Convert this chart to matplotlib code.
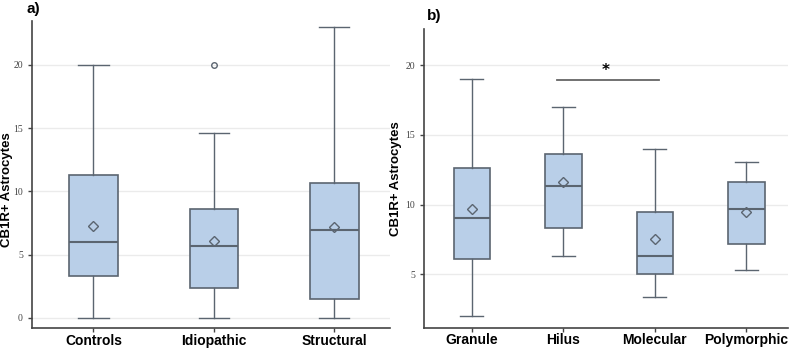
import matplotlib
matplotlib.use("Agg")
import matplotlib.pyplot as plt

# Panel a data
cats_a = ["Controls", "Idiopathic", "Structural"]
low_a = [0.0, 0.0, 0.0]
q1_a = [3.3, 2.33, 1.5]
med_a = [6.02, 5.68, 6.97]
q3_a = [11.3, 8.6, 10.66]
high_a = [20.0, 14.62, 23.0]
mean_a = [7.26, 6.07, 7.18]
fliers_a = [[], [20.0], []]
yticks_a = [0, 5, 10, 15, 20]

# Panel b data
cats_b = ["Granule", "Hilus", "Molecular", "Polymorphic"]
low_b = [2.0, 6.32, 3.35, 5.31]
q1_b = [6.06, 8.31, 5.03, 7.18]
med_b = [9.02, 11.3, 6.32, 9.67]
q3_b = [12.59, 13.62, 9.48, 11.63]
high_b = [19.0, 16.99, 14.0, 13.02]
mean_b = [9.67, 11.63, 7.49, 9.43]
fliers_b = [[], [], [], []]
yticks_b = [5, 10, 15, 20]
sig_pair = (1, 2)
sig_y = 18.95

FILL = "#b9cfe8"
EDGE = "#5b6570"
GRID = "#ebebeb"

fig = plt.figure(figsize=(7.9, 3.5), dpi=100)

def draw(ax, cats, low, q1, med, q3, high, mean, fliers, yticks, ylim, xlim,
         label_x, label_y):
    stats = []
    for i, c in enumerate(cats):
        stats.append(dict(med=med[i], q1=q1[i], q3=q3[i], whislo=low[i],
                          whishi=high[i], mean=mean[i], fliers=fliers[i], label=c))
    ax.bxp(stats, positions=range(len(cats)), widths=0.4, patch_artist=True,
           showmeans=True, showfliers=True,
           boxprops=dict(facecolor=FILL, edgecolor=EDGE, linewidth=1.2),
           medianprops=dict(color=EDGE, linewidth=1.5),
           whiskerprops=dict(color=EDGE, linewidth=1.0),
           capprops=dict(color=EDGE, linewidth=1.0),
           capwidths=0.25,
           meanprops=dict(marker="D", markerfacecolor="none", markeredgecolor=EDGE,
                          markersize=5.5, markeredgewidth=1.0),
           flierprops=dict(marker="o", markerfacecolor="none", markeredgecolor=EDGE,
                           markersize=4, markeredgewidth=1.0))
    ax.set_ylim(*ylim)
    ax.set_xlim(*xlim)
    ax.set_yticks(yticks)
    ax.set_yticklabels([str(t) for t in yticks], family="Liberation Serif",
                       fontsize=7, color="#444444")
    ax.set_xticks(range(len(cats)))
    ax.set_xticklabels(cats, fontsize=10, fontweight="bold",
                       family="Liberation Sans")
    ax.yaxis.grid(True, color=GRID, linewidth=1.0)
    ax.set_axisbelow(True)
    for s in ["top", "right"]:
        ax.spines[s].set_visible(False)
    for s in ["left", "bottom"]:
        ax.spines[s].set_color("#444444")
        ax.spines[s].set_linewidth(1.2)
    ax.tick_params(axis="both", color="#444444", length=3, width=1.0)
    ax.tick_params(axis="x", pad=1)
    ax.set_ylabel("CB1R+ Astrocytes", fontsize=9.5, fontweight="bold",
                  family="Liberation Sans")
    ax.yaxis.set_label_coords(label_x, label_y)

ax1 = fig.add_axes([0.0405, 0.063, 0.453, 0.878])
draw(ax1, cats_a, low_a, q1_a, med_a, q3_a, high_a, mean_a, fliers_a, yticks_a,
     (-0.8, 23.5), (-0.51, 2.46), -0.053, 0.45)
fig.text(0.034, 0.975, "a)", fontsize=11, fontweight="bold",
         family="Liberation Sans", va="center")

ax2 = fig.add_axes([0.537, 0.0637, 0.461, 0.853])
draw(ax2, cats_b, low_b, q1_b, med_b, q3_b, high_b, mean_b, fliers_b, yticks_b,
     (1.15, 22.6), (-0.52, 3.46), -0.061, 0.5)
ax2.plot([sig_pair[0] - 0.07, sig_pair[1] + 0.05], [sig_y, sig_y], color="#666666", lw=1.3)
ax2.text((sig_pair[0] + sig_pair[1]) / 2 - 0.04, sig_y + 0.15, "*", ha="center",
         va="bottom", fontsize=11, fontweight="bold")
fig.text(0.541, 0.955, "b)", fontsize=11, fontweight="bold",
         family="Liberation Sans", va="center")

fig.savefig("out.png", dpi=100)
